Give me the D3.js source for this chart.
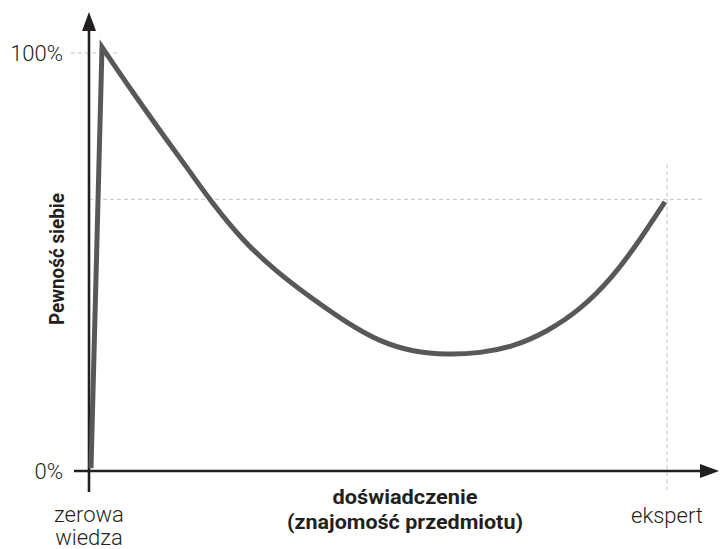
<!DOCTYPE html>
<html>
<head>
<meta charset="utf-8">
<script src="https://cdn.jsdelivr.net/npm/d3@7"></script>
<style>
  body { margin: 0; background: #fff; }
  text { font-family: Roboto, "Liberation Sans", sans-serif; fill: #231f20; }
  .tick-label { font-size: 22px; font-weight: 300; }
  .axis-title { font-size: 20px; font-weight: bold; }
</style>
</head>
<body>
<div id="chart"></div>
<script>
/* DATA */
// experience (0 = zero knowledge, 100 = expert) and confidence in %
const experience = [0.35, 2.25, 7.66, 13.44, 17.47, 20.93, 26.64, 32.53, 38.24, 44.64, 50.35, 56.06, 61.94, 67.65, 73.36, 79.24, 84.95, 90.66, 95.33, 99.65];
const confidence = [0.7, 101.4, 90.4, 79.2, 71.6, 64.8, 55.0, 47.6, 41.6, 35.4, 30.9, 28.5, 27.8, 28.2, 29.7, 33.3, 38.5, 46.4, 55.3, 64.4];
const yTicks = [0, 100];
const yTickLabels = ["0%", "100%"];
const expertLevel = 65;
const expertX = 100;
const xLabels = [["zerowa", "wiedza"], ["ekspert"]];
const xTitle = ["doświadczenie", "(znajomość przedmiotu)"];
const yTitle = "Pewność siebie";

const width = 720,
  height = 549,
  margin = { top: 53, bottom: 78, left: 89, right: 53 };

const svg = d3.select("#chart")
  .append("svg")
  .attr("width", width)
  .attr("height", height);

const xScale = d3.scaleLinear()
  .domain([0, 100])
  .range([margin.left, width - margin.right]);

const yScale = d3.scaleLinear()
  .domain([0, 100])
  .range([height - margin.bottom, margin.top]);

const x0 = xScale(0), y0 = yScale(0);

// dashed guides
function guide(x1, y1, x2, y2) {
  svg.append("line")
    .attr("x1", x1).attr("y1", y1).attr("x2", x2).attr("y2", y2)
    .attr("stroke", "#c4c4c4")
    .attr("stroke-width", 1)
    .attr("stroke-dasharray", "4,3");
}
guide(x0 - 18, yScale(100), x0 + 28, yScale(100));
guide(x0, yScale(expertLevel), xScale(expertX) + 38, yScale(expertLevel));
guide(xScale(expertX), yScale(expertLevel) - 35, xScale(expertX), y0 + 21);

// axes with arrowheads
svg.append("line")
  .attr("x1", x0).attr("x2", x0)
  .attr("y1", y0 + 21).attr("y2", 28)
  .attr("stroke", "#231f20").attr("stroke-width", 2.6);
svg.append("path")
  .attr("d", `M${x0},12 L${x0 - 7},31 L${x0 + 7},31 Z`)
  .attr("fill", "#231f20");

svg.append("line")
  .attr("x1", x0 - 15).attr("x2", 702)
  .attr("y1", y0).attr("y2", y0)
  .attr("stroke", "#231f20").attr("stroke-width", 2.6);
svg.append("path")
  .attr("d", `M719,${y0} L700,${y0 - 7} L700,${y0 + 7} Z`)
  .attr("fill", "#231f20");

// y tick labels
svg.selectAll("text.ytick")
  .data(yTicks)
  .join("text")
  .attr("class", "tick-label ytick")
  .attr("x", x0 - 26)
  .attr("y", d => yScale(d))
  .attr("dy", "0.36em")
  .attr("text-anchor", "end")
  .text((d, i) => yTickLabels[i]);

// x end labels
const xl = svg.append("text")
  .attr("class", "tick-label")
  .attr("x", x0)
  .attr("y", 522)
  .attr("text-anchor", "middle");
xLabels[0].forEach((t, i) => xl.append("tspan").attr("x", x0).attr("dy", i ? 23 : 0).text(t));

svg.append("text")
  .attr("class", "tick-label")
  .attr("x", xScale(expertX))
  .attr("y", 523)
  .attr("text-anchor", "middle")
  .text(xLabels[1][0]);

// axis titles (condensed look via textLength)
const titleWidths = [145, 236];
xTitle.forEach((t, i) => {
  svg.append("text")
    .attr("class", "axis-title")
    .attr("x", 405)
    .attr("y", 504 + i * 25)
    .attr("text-anchor", "middle")
    .attr("textLength", titleWidths[i])
    .attr("lengthAdjust", "spacingAndGlyphs")
    .text(t);
});

svg.append("text")
  .attr("class", "axis-title")
  .attr("transform", `translate(64,259) rotate(-90)`)
  .attr("text-anchor", "middle")
  .attr("textLength", 132)
  .attr("lengthAdjust", "spacingAndGlyphs")
  .text(yTitle);

// the curve: straight rise to the peak, smooth after it
const pts = experience.map((d, i) => [xScale(d), yScale(confidence[i])]);
const rise = d3.line()(pts.slice(0, 2));
const fall = d3.line().curve(d3.curveBasis)(pts.slice(1));

svg.append("path")
  .attr("d", rise + fall.replace(/^M/, "L"))
  .attr("fill", "none")
  .attr("stroke", "#58585a")
  .attr("stroke-width", 5)
  .attr("stroke-linejoin", "miter")
  .attr("stroke-miterlimit", 20);
</script>
</body>
</html>
